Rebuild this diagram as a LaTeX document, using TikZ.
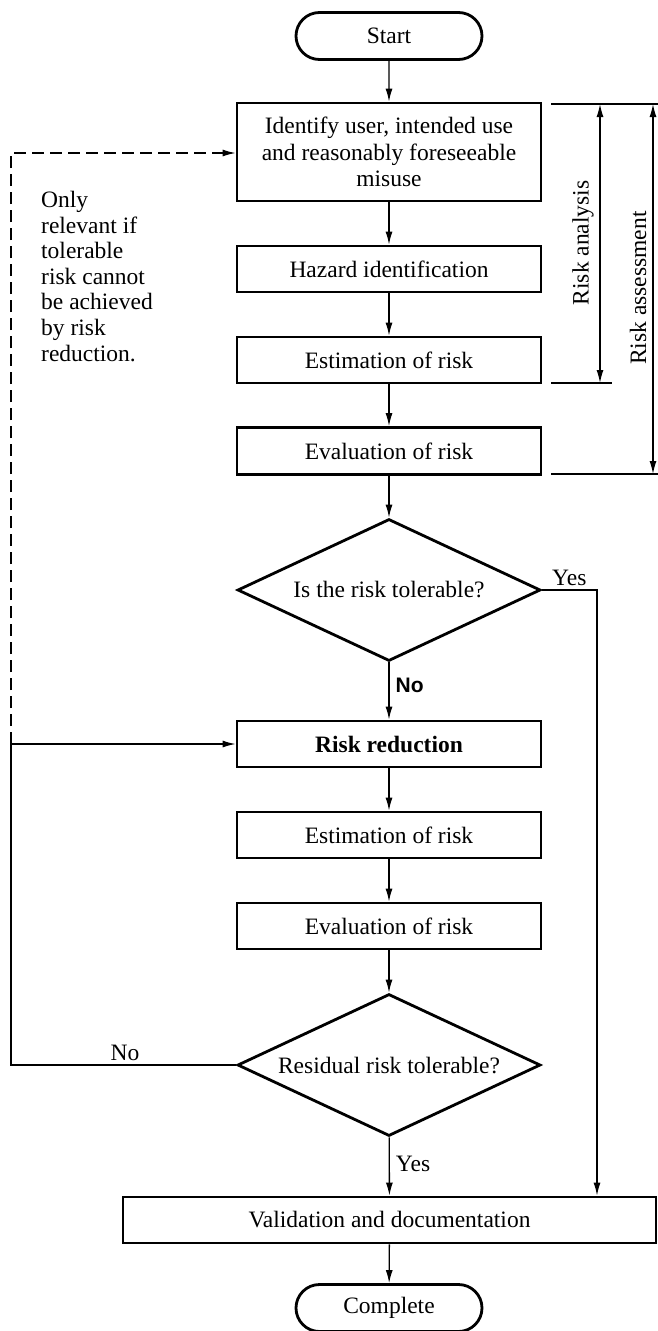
\documentclass[tikz,border=0pt]{standalone}
\usepackage{fontspec}
\setmainfont{Liberation Serif}
\newfontfamily\labelsans{Liberation Sans}
\usetikzlibrary{shapes.geometric,shapes.misc,arrows.meta}
\begin{document}
\begin{tikzpicture}[x=1pt,y=-1pt,
  font=\fontsize{23.5}{26.5}\selectfont,
  stepbox/.style={draw,line width=2.8pt,minimum width=304pt,inner sep=2pt,align=center},
  termbox/.style={draw,rounded rectangle,line width=2.8pt,minimum width=190pt,minimum height=47pt,inner sep=2pt},
  decide/.style={draw,diamond,aspect=2.13,line width=2.8pt,minimum width=303pt,minimum height=142pt,inner sep=0pt},
  conn/.style={line width=1.3pt,-{Latex[length=13pt,width=7pt]}},
  plain/.style={line width=1.3pt},
  dimline/.style={line width=1.3pt,{Latex[length=13pt,width=7pt]}-{Latex[length=13pt,width=7pt]}},
  lbl/.style={inner sep=0pt}]
\useasboundingbox (0,0) rectangle (658,1331);
\node[termbox] (start) at (389,36) {Start};
\node[stepbox,minimum height=98pt] (b1) at (389,152) {Identify user, intended use\\and reasonably foreseeable\\misuse};
\node[stepbox,minimum height=46pt] (b2) at (389,269) {Hazard identification};
\node[stepbox,minimum height=46pt] (b3) at (389,360) {Estimation of risk};
\node[stepbox,minimum height=47pt] (b4) at (389,451) {Evaluation of risk};
\node[decide] (d1) at (389,590) {Is the risk tolerable?};
\node[stepbox,minimum height=46pt] (b5) at (389,744) {\textbf{Risk reduction}};
\node[stepbox,minimum height=46pt] (b6) at (389,835) {Estimation of risk};
\node[stepbox,minimum height=46pt] (b7) at (389,926) {Evaluation of risk};
\node[decide] (d2) at (389,1065) {Residual risk tolerable?};
\node[stepbox,minimum width=533pt,minimum height=46pt] (val) at (389.5,1220) {Validation and documentation};
\node[termbox] (end) at (389,1308) {Complete};

\draw[conn] (start) -- (b1);
\draw[conn] (b1) -- (b2);
\draw[conn] (b2) -- (b3);
\draw[conn] (b3) -- (b4);
\draw[conn] (b4) -- (d1);
\draw[conn] (d1) -- node[lbl,right=6pt,pos=0.4,font=\labelsans\bfseries\fontsize{21}{23}\selectfont] (no1) {No} (b5);
\draw[conn] (b5) -- (b6);
\draw[conn] (b6) -- (b7);
\draw[conn] (b7) -- (d2);
\draw[conn] (d2) -- node[lbl,right=6pt,pos=0.45] (yes2) {Yes} (val);
\draw[conn] (val) -- (end);

\coordinate (yr) at (597,590);
\draw[conn] (d1.east) -- (yr) -- (yr |- val.north);
\node[lbl,anchor=south west] (yes1) at (552,586) {Yes};

\coordinate (loopc) at (11,744);
\draw[plain] (d2.west) -- (11,1065) -- (loopc);
\draw[conn] (loopc) -- (b5.west);
\node[lbl,anchor=south] (no2) at (125,1061) {No};
\coordinate (dtop) at (11,153);
\draw[line width=1.3pt,dash pattern=on 12pt off 6pt,-{Latex[length=13pt,width=7pt]}] (loopc) -- (dtop) -- (b1.west |- dtop);
\node[lbl,anchor=north west,align=left,font=\fontsize{23.5}{25.6}\selectfont] (note) at (41,191) {Only\\relevant if\\tolerable\\risk cannot\\be achieved\\by risk\\reduction.};

\coordinate (ta) at (600,104);
\coordinate (tb) at (600,383);
\coordinate (sa) at (653,104);
\coordinate (sb) at (653,474);
\draw[plain] (551,104) -- (658,104);
\draw[plain] (551,383) -- (612,383);
\draw[plain] (551,474) -- (658,474);
\draw[dimline] (tb) -- (ta);
\draw[dimline] (sb) -- (sa);
\node[lbl,rotate=90] (ra) at (583,243) {Risk analysis};
\node[lbl,rotate=90] (rs) at (638,288) {Risk assessment};
\end{tikzpicture}
\end{document}
